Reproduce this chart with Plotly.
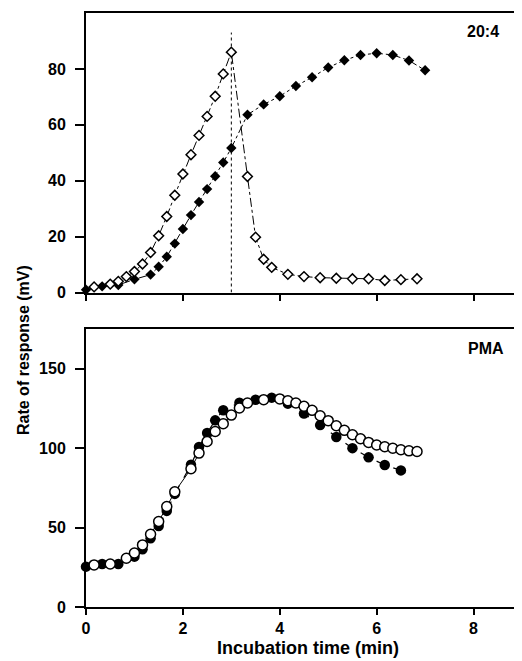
import plotly.graph_objects as go
from plotly.subplots import make_subplots

# ---- Data: top panel (20:4) ----
top_open_t = [0.167, 0.5, 0.667, 0.833, 1.0, 1.167, 1.333, 1.5, 1.667, 1.833, 2.0, 2.167,
              2.333, 2.5, 2.667, 2.833, 3.0, 3.333, 3.5, 3.667, 3.833, 4.167, 4.5, 4.833,
              5.167, 5.5, 5.833, 6.167, 6.5, 6.833]
top_open_v = [2.0, 3.0, 4.0, 5.7, 7.5, 10.2, 14.3, 20.3, 27.2, 34.8, 42.4, 49.3,
              56.2, 63.0, 70.2, 78.2, 86.0, 41.5, 19.8, 11.9, 9.0, 6.5, 5.7, 5.3,
              5.1, 4.9, 4.9, 4.3, 4.6, 4.9]

top_filled_t = [0.0, 0.333, 0.667, 1.0, 1.333, 1.5, 1.667, 1.833, 2.0, 2.167, 2.333, 2.5,
                2.667, 2.833, 3.0, 3.333, 3.667, 4.0, 4.333, 4.667, 5.0, 5.333, 5.667,
                6.0, 6.333, 6.667, 7.0]
top_filled_v = [1.0, 2.2, 2.7, 4.7, 6.4, 9.2, 12.8, 17.5, 22.7, 27.7, 32.4, 37.0,
                41.6, 46.5, 51.7, 63.6, 67.3, 70.2, 73.9, 77.0, 80.5, 83.1, 85.0,
                85.6, 85.0, 83.0, 79.5]

peak_time = 3.0
peak_marker_top = 93

# ---- Data: bottom panel (PMA) ----
bot_filled_t = [0.0, 0.333, 0.667, 1.0, 1.167, 1.333, 1.5, 1.667, 1.833, 2.167, 2.333, 2.5,
                2.667, 2.833, 3.167, 3.5, 3.833, 4.167, 4.5, 4.833, 5.167, 5.5, 5.833,
                6.167, 6.5]
bot_filled_v = [25.4, 27.1, 27.1, 31.7, 36.4, 43.3, 51.0, 60.5, 71.2, 89.5, 100.7, 109.5,
                117.5, 123.8, 128.6, 130.5, 131.8, 128.0, 121.8, 114.5, 107.0, 100.0, 94.2,
                89.4, 86.0]

bot_open_t = [0.167, 0.5, 0.833, 1.0, 1.167, 1.333, 1.5, 1.667, 1.833, 2.167, 2.333, 2.5,
              2.667, 2.833, 3.0, 3.167, 3.333, 3.667, 4.0, 4.167, 4.333, 4.5, 4.667,
              4.833, 5.0, 5.167, 5.333, 5.5, 5.667, 5.833, 6.0, 6.167, 6.333, 6.5,
              6.667, 6.833]
bot_open_v = [26.5, 27.1, 30.7, 34.0, 39.1, 45.8, 53.8, 63.2, 72.5, 87.0, 96.9, 104.2,
              110.5, 115.4, 120.8, 125.3, 128.4, 130.5, 131.0, 129.8, 128.4, 126.3, 123.8,
              120.4, 117.3, 114.1, 111.2, 108.4, 105.9, 103.6, 102.0, 100.9, 99.9, 99.0,
              98.3, 97.9]

x_ticks = [0, 2, 4, 6, 8]
top_y_ticks = [0, 20, 40, 60, 80]
bot_y_ticks = [0, 50, 100, 150]

FONT = "Liberation Sans, Arial, sans-serif"

fig = make_subplots(rows=2, cols=1, shared_xaxes=False, vertical_spacing=0.0)

fig.add_trace(go.Scatter(
    x=top_filled_t, y=top_filled_v, mode="lines+markers",
    line=dict(color="black", width=1, dash="dashdot"),
    marker=dict(symbol="diamond", size=8, color="black"),
    showlegend=False, cliponaxis=False), row=1, col=1)
fig.add_trace(go.Scatter(
    x=top_open_t, y=top_open_v, mode="lines+markers",
    line=dict(color="black", width=1, dash="dashdot"),
    marker=dict(symbol="diamond", size=7.5, color="white", line=dict(color="black", width=1.5)),
    showlegend=False, cliponaxis=False), row=1, col=1)

fig.add_trace(go.Scatter(
    x=bot_filled_t, y=bot_filled_v, mode="lines+markers",
    line=dict(color="black", width=1.2, dash="dash"),
    marker=dict(symbol="circle", size=10.5, color="black"),
    showlegend=False, cliponaxis=False), row=2, col=1)
fig.add_trace(go.Scatter(
    x=bot_open_t, y=bot_open_v, mode="lines+markers",
    line=dict(color="black", width=1),
    marker=dict(symbol="circle", size=10, color="white", line=dict(color="black", width=1.5)),
    showlegend=False, cliponaxis=False), row=2, col=1)

fig.add_shape(type="line", xref="x", yref="y", x0=peak_time, x1=peak_time,
              y0=0, y1=peak_marker_top, line=dict(color="black", width=1, dash="dot"),
              layer="below")

# The page body adds an 8px offset; the figure is sized so that the plot
# area lands on the reference's pixel positions.
W_FIG, H_FIG = 514, 653
M_L, M_R, M_T, M_B = 78, 0, 5, 54
H_PLOT = H_FIG - M_T - M_B          # 594
W_PLOT = W_FIG - M_L - M_R          # 436
top_dom = [1 - 279.5 / H_PLOT, 1.0]
bot_dom = [0.0, 1 - 316.0 / H_PLOT]

axis_common = dict(showline=True, linecolor="black", linewidth=2, ticks="outside",
                   tickcolor="black", tickwidth=2, showgrid=False, zeroline=False,
                   automargin=False,
                   tickfont=dict(family=FONT, size=16, color="black", weight="bold"))

fig.update_xaxes(range=[0, 9], tickvals=x_ticks, ticklen=6, mirror=True, **axis_common)
fig.update_xaxes(showticklabels=False, row=1, col=1)
fig.update_xaxes(ticktext=[str(v) for v in x_ticks], row=2, col=1)
fig.update_yaxes(ticklen=9, ticklabelstandoff=6, **axis_common)
fig.update_yaxes(range=[0, 100], tickvals=top_y_ticks, domain=top_dom, row=1, col=1)
fig.update_yaxes(range=[0, 175], tickvals=bot_y_ticks, domain=bot_dom, row=2, col=1)

fig.add_annotation(text="20:4", xref="x", yref="y", x=8.2, y=93.5, showarrow=False,
                   font=dict(family=FONT, size=16, color="black", weight="bold"))
fig.add_annotation(text="PMA", xref="x2", yref="y2", x=8.25, y=163, showarrow=False,
                   font=dict(family=FONT, size=16, color="black", weight="bold"))

fig.add_annotation(text="Rate of response (mV)", xref="paper", yref="paper",
                   x=(23 - 86) / W_PLOT, y=(607 - 350) / H_PLOT, textangle=-90,
                   showarrow=False, xanchor="center", yanchor="middle",
                   font=dict(family=FONT, size=16, color="black", weight="bold"))
fig.add_annotation(text="Incubation time (min)", xref="paper", yref="paper",
                   x=(308 - 86) / W_PLOT, y=(607 - 648) / H_PLOT,
                   showarrow=False, xanchor="center", yanchor="middle",
                   font=dict(family=FONT, size=18, color="black", weight="bold"))

fig.update_layout(width=W_FIG, height=H_FIG,
                  margin=dict(l=M_L, r=M_R, t=M_T, b=M_B, autoexpand=False),
                  template="none", plot_bgcolor="white", paper_bgcolor="white")

fig.write_html("out.html")
